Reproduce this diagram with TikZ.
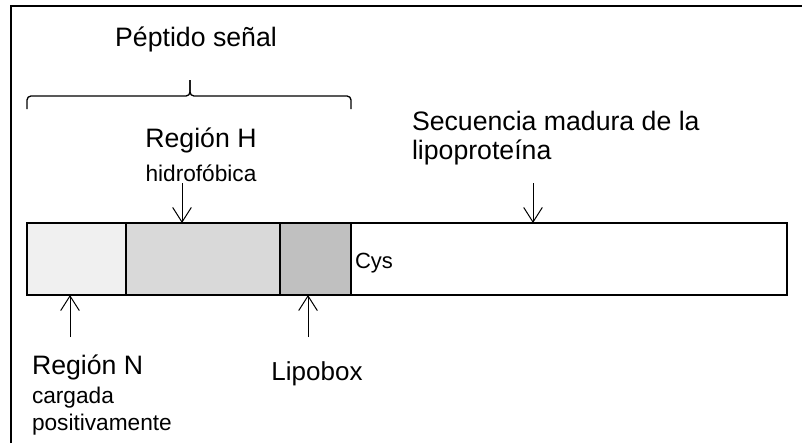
\documentclass[tikz,border=0pt]{standalone}
\usepackage{fontspec}
\setmainfont{Liberation Sans}
\usetikzlibrary{arrows.meta}

\begin{document}
\begin{tikzpicture}[x=0.75pt, y=-0.75pt]
\tikzstyle{every node}=[inner sep=0pt, outer sep=0pt]
\tikzstyle{seg}=[draw, line width=1pt, minimum height=54pt, anchor=north west]
\tikzstyle{arr}=[line width=0.75pt, -{Straight Barb[length=11pt, width=14pt, line width=0.75pt]}]
\tikzstyle{big}=[font=\fontsize{20}{24}\selectfont, anchor=base]
\tikzstyle{small}=[font=\fontsize{17}{20}\selectfont, anchor=base]
\useasboundingbox (0,0) rectangle (802,443);
% frame
\draw[line width=1.5pt] (11,443) -- (11,6) -- (802,6);
% segments of the protein
\node[seg, fill={rgb,255:red,240;green,240;blue,240}, minimum width=74.25pt] (nreg) at (27,223) {};
\node[seg, fill={rgb,255:red,217;green,217;blue,217}, minimum width=115.5pt] (hreg) at (nreg.north east) {};
\node[seg, fill={rgb,255:red,192;green,192;blue,192}, minimum width=53.25pt] (lbox) at (hreg.north east) {};
\node[seg, fill=white, minimum width=327pt] (mat) at (lbox.north east) {};
\node[font=\fontsize{16.5}{20}\selectfont, anchor=base west] (cys) at (355,268) {Cys};
% brace
\draw[line width=1pt, rounded corners=3pt] (27,109) |- (190,96) -- (190,80);
\draw[line width=1pt, rounded corners=3pt] (190,80) -- (190,96) -| (351,109);
\node[big] (sig) at (196,46) {Péptido señal};
% labels
\node[big] (hlab) at (201,147) {Región H};
\node[small] (hsub) at (201,181) {hidrofóbica};
\node[big, anchor=base west] (nlab) at (32,374) {Región N};
\node[small, anchor=base west] (nsub1) at (32,403) {cargada};
\node[small, anchor=base west] (nsub2) at (32,430) {positivamente};
\node[big, font=\fontsize{19.5}{24}\selectfont] (llab) at (317,380) {Lipobox};
\node[big, anchor=base west] (mlab1) at (412,130) {Secuencia madura de la};
\node[big, anchor=base west] (mlab2) at (412,159) {lipoproteína};
% arrows
\coordinate (ha) at (182,183);
\coordinate (ma) at (533,183);
\coordinate (na) at (70,337);
\coordinate (la) at (308,337);
\draw[arr] (ha) -- (ha |- hreg.north);
\draw[arr] (ma) -- (ma |- mat.north);
\draw[arr] (na) -- (na |- nreg.south);
\draw[arr] (la) -- (la |- lbox.south);
\end{tikzpicture}
\end{document}
